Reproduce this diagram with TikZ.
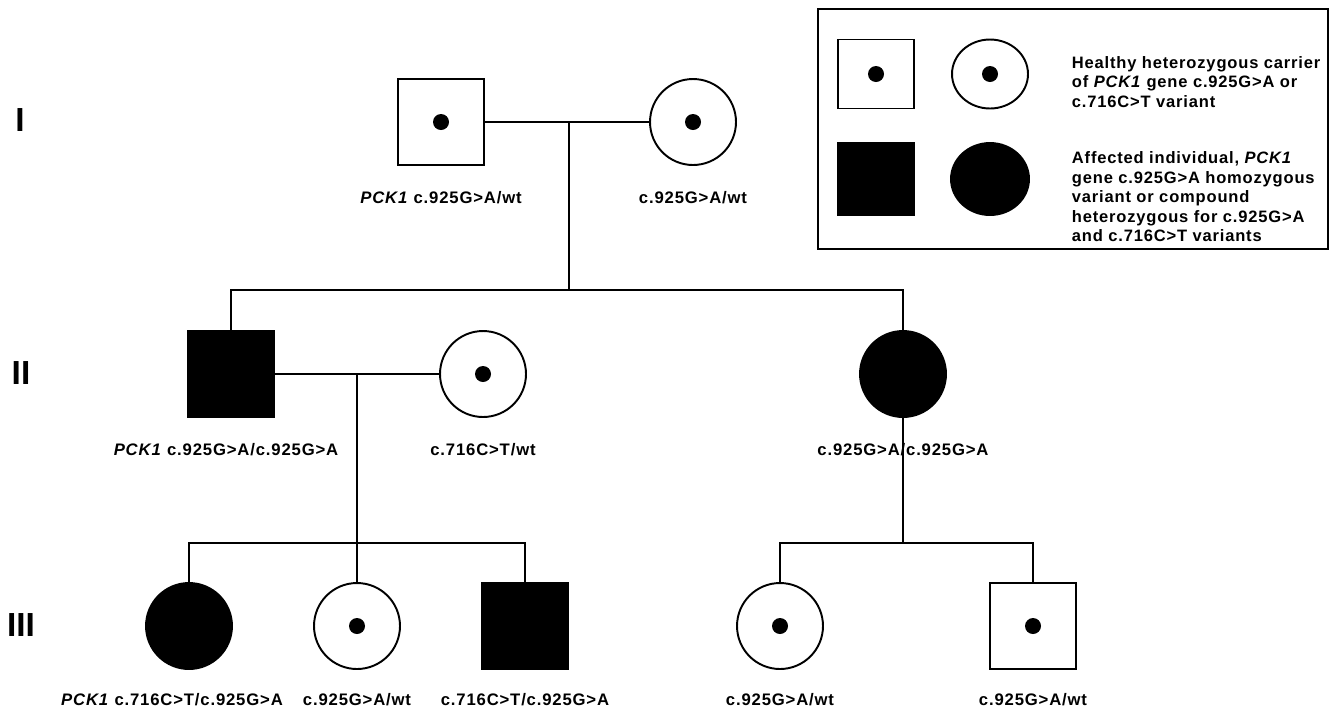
\documentclass[tikz,border=0pt]{standalone}
\usepackage{fontspec}
\setmainfont{Liberation Sans}
\newfontfamily\lblfont[LetterSpace=5]{Liberation Sans}
\usetikzlibrary{positioning, shapes.geometric}

\begin{document}
\begin{tikzpicture}[
    x=0.02cm, y=-0.02cm, line width=1.1pt,
    male/.style={draw, rectangle, minimum size=1.72cm, inner sep=0pt},
    female/.style={draw, circle, minimum size=1.72cm, inner sep=0pt},
    affected/.style={fill=black},
    carrier/.style={path picture={\fill (path picture bounding box.center) circle (0.16cm);}},
    lbl/.style={font=\lblfont\fontsize{9.5}{11}\selectfont\bfseries, inner sep=0pt},
    gen/.style={font=\fontsize{19}{22}\selectfont\bfseries, inner sep=0pt},
    node distance=0.48cm
  ]
    \useasboundingbox (0,0) rectangle (1335,708);

    % Generation numbers
    \node[gen] (genI) at (20,120) {I};
    \node[gen] (genII) at (21,373) {II};
    \node[gen] (genIII) at (21,625) {III};

    % Generation I
    \node[male, carrier] (i1) at (441,122) {};
    \node[female, carrier] (i2) at (693,122) {};
    \node[lbl, below=of i1] (i1lab) {\textit{PCK1} c.925G>A/wt};
    \node[lbl, below=of i2] (i2lab) {c.925G>A/wt};

    % Generation II
    \node[male, affected] (ii1) at (231,374) {};
    \node[female, carrier] (ii2) at (483,374) {};
    \node[female, affected] (ii3) at (903,374) {};
    \node[lbl, below=of ii1, xshift=-0.1cm] (ii1lab) {\textit{PCK1} c.925G>A/c.925G>A};
    \node[lbl, below=of ii2] (ii2lab) {c.716C>T/wt};
    \node[lbl, below=of ii3] (ii3lab) {c.925G>A/c.925G>A};

    % Generation III
    \node[female, affected] (iii1) at (189,626) {};
    \node[female, carrier] (iii2) at (357,626) {};
    \node[male, affected] (iii3) at (525,626) {};
    \node[female, carrier] (iii4) at (780,626) {};
    \node[male, carrier] (iii5) at (1033,626) {};
    \node[lbl, below=0.44cm of iii1, xshift=-0.34cm] (iii1lab) {\textit{PCK1} c.716C>T/c.925G>A};
    \node[lbl, below=0.44cm of iii2] (iii2lab) {c.925G>A/wt};
    \node[lbl, below=0.44cm of iii3] (iii3lab) {c.716C>T/c.925G>A};
    \node[lbl, below=0.44cm of iii4] (iii4lab) {c.925G>A/wt};
    \node[lbl, below=0.44cm of iii5] (iii5lab) {c.925G>A/wt};

    % Matings and sibships
    \coordinate (m1) at (569,122);
    \coordinate (s1) at (569,290);
    \coordinate (m2) at (357,374);
    \coordinate (s2) at (357,543);
    \coordinate (s3) at (903,543);

    \draw (i1) -- (i2);
    \draw (m1) -- (s1);
    \draw (ii1.north) -- (ii1.north |- s1) -- (ii3.north |- s1) -- (ii3.north);

    \draw (ii1) -- (ii2);
    \draw (m2) -- (s2);
    \draw (iii1.north) -- (iii1.north |- s2) -- (iii3.north |- s2) -- (iii3.north);
    \draw (iii2.north) -- (s2);

    \draw (ii3.south) -- (s3);
    \draw (iii4.north) -- (iii4.north |- s3) -- (iii5.north |- s3) -- (iii5.north);

    % Legend
    \node[draw, minimum width=10.2cm, minimum height=4.8cm, inner sep=0pt] (legend) at (1073,129) {};
    \node[male, carrier, minimum width=1.52cm, minimum height=1.38cm] (keyhet) at (876,74) {};
    \node[draw, ellipse, carrier, minimum width=1.52cm, minimum height=1.38cm, inner sep=0pt] (keyhetf) at (990,74) {};
    \node[male, affected, minimum width=1.54cm, minimum height=1.44cm] (keyaff) at (876,179) {};
    \node[draw, ellipse, affected, minimum width=1.56cm, minimum height=1.44cm, inner sep=0pt] (keyafff) at (990,179) {};
    \node[lbl, anchor=west, align=left, font=\lblfont\fontsize{9.4}{11.1}\selectfont\bfseries] (keyhettxt) at (1071,82) {
      Healthy heterozygous carrier\\
      of \textit{PCK1} gene c.925G>A or\\
      c.716C>T variant
    };
    \node[lbl, anchor=west, align=left, font=\lblfont\fontsize{9.4}{11.1}\selectfont\bfseries] (keyafftxt) at (1071,197) {
      Affected individual, \textit{PCK1}\\
      gene c.925G>A homozygous\\
      variant or compound\\
      heterozygous for c.925G>A\\
      and c.716C>T variants
    };
  \end{tikzpicture}
\end{document}
